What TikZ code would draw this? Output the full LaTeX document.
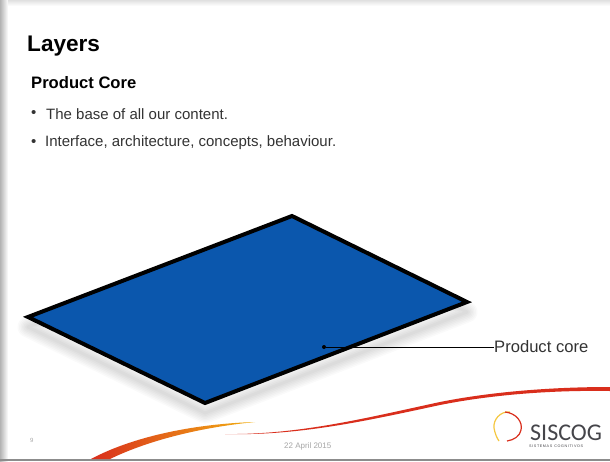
\documentclass[tikz,border=0pt]{standalone}
\usepackage{fontspec}
\setmainfont{Liberation Sans}
\newfontfamily\logofont{Carlito}
\newlength{\du}
\setlength{\du}{1pt}
\definecolor{platecolor}{rgb}{0.043, 0.341, 0.678}
\definecolor{bodycolor}{rgb}{0.200, 0.200, 0.200}
\definecolor{footcolor}{rgb}{0.650, 0.650, 0.650}
\definecolor{swooshred}{rgb}{0.850, 0.180, 0.110}
\definecolor{swooshorange}{rgb}{0.930, 0.560, 0.100}
\definecolor{logoyellow}{rgb}{0.960, 0.780, 0.250}
\definecolor{logogray}{rgb}{0.270, 0.270, 0.290}
\tikzset{
  textlabel/.style={anchor=west, inner sep=0pt},
  bodytext/.style={textlabel, text=bodycolor, font=\fontsize{15\du}{18\du}\selectfont},
  foottext/.style={textlabel, text=footcolor, font=\fontsize{8\du}{10\du}\selectfont},
  plateedge/.style={line width=4\du, line join=miter},
}
\begin{document}
\begin{tikzpicture}
\pgftransformyscale{-1.000000}
\useasboundingbox (0\du,0\du) rectangle (610\du,461\du);
% slide edges
\fill[white] (0\du,0\du) rectangle (610\du,461\du);
\shade[left color=black!30, right color=white] (0\du,0\du) rectangle (8\du,461\du);
\fill[white] (8\du,6\du) rectangle (610\du,459\du);
\shade[top color=black!12, bottom color=white] (8\du,0\du) rectangle (610\du,6\du);
\fill[black!45] (0\du,459\du) rectangle (610\du,461\du);
% heading
\node[textlabel, font=\bfseries\fontsize{22.6\du}{26\du}\selectfont] (title) at (27\du,46\du) {Layers};
\node[textlabel, font=\bfseries\fontsize{16.6\du}{20\du}\selectfont] (subtitle) at (31\du,83\du) {Product Core};
\node[bodytext] (bulleta) at (31\du,114\du) {\textbullet};
\node[bodytext] (linea) at (46\du,114\du) {The base of all our content.};
\node[bodytext] (bulletb) at (31\du,143\du) {\textbullet};
\node[bodytext] (lineb) at (45\du,143\du) {Interface, architecture, concepts, behaviour.};
% plate
\coordinate (platetop) at (292\du,216\du);
\coordinate (plateright) at (467\du,302\du);
\coordinate (platebottom) at (205\du,403\du);
\coordinate (plateleft) at (28\du,317\du);
\foreach \w in {3,6,...,21}
  \draw[line width=\w\du, black, opacity=0.02, line join=round]
    (292\du,226\du) -- (467\du,312\du) -- (205\du,413\du) -- (28\du,327\du) -- cycle;
\draw[plateedge, fill=platecolor] (platetop) -- (plateright) -- (platebottom) -- (plateleft) -- cycle;
% leader
\node[circle, fill=black, inner sep=0pt, minimum size=4\du] (coredot) at (324\du,347\du) {};
\node[textlabel, text=bodycolor, font=\fontsize{16.6\du}{20\du}\selectfont] (corelabel) at (494\du,347\du) {Product core};
\draw[line width=1\du] (coredot) -- (corelabel);
% swooshes
\path[left color=swooshred, right color=swooshorange!70!yellow]
  (91\du,459\du) .. controls (130\du,438\du) and (190\du,424\du) .. (255\du,422\du)
  .. controls (195\du,428\du) and (145\du,442\du) .. (110\du,459\du) -- cycle;
\fill[swooshred] (225\du,434\du) .. controls (300\du,435\du) and (370\du,417\du) .. (440\du,402\du)
  .. controls (490\du,392\du) and (550\du,387\du) .. (610\du,387\du) -- (610\du,391\du)
  .. controls (550\du,390\du) and (490\du,395\du) .. (440\du,405\du)
  .. controls (370\du,420\du) and (300\du,436\du) .. (225\du,434\du) -- cycle;
% footer
\node[foottext, font=\fontsize{6\du}{8\du}\selectfont] (pagenum) at (30\du,440\du) {9};
\node[foottext] (datelabel) at (284\du,446\du) {22 April 2015};
% logo
\draw[logoyellow, line width=1.2\du] (510\du,412\du) .. controls (500\du,411\du) and (493\du,420\du) .. (494\du,428\du)
  .. controls (495\du,434\du) and (497\du,438\du) .. (499\du,441\du);
\draw[swooshred, line width=1.2\du] (505\du,412\du) .. controls (516\du,413\du) and (523\du,422\du) .. (521\du,430\du)
  .. controls (520\du,436\du) and (514\du,440\du) .. (507\du,441\du);
\node[textlabel, anchor=base west, text=logogray, font=\logofont\fontsize{24\du}{26\du}\selectfont, text depth=0pt] (logoname) at (530\du,440\du) {SISCOG};
\node[textlabel, text=logogray, font=\fontsize{3.7\du}{5\du}\selectfont, text height=3\du, text depth=0pt] (logosub) at (529\du,446\du) {S\,I\,S\,T\,E\,M\,A\,S\ \ C\,O\,G\,N\,I\,T\,I\,V\,O\,S};
\end{tikzpicture}
\end{document}
